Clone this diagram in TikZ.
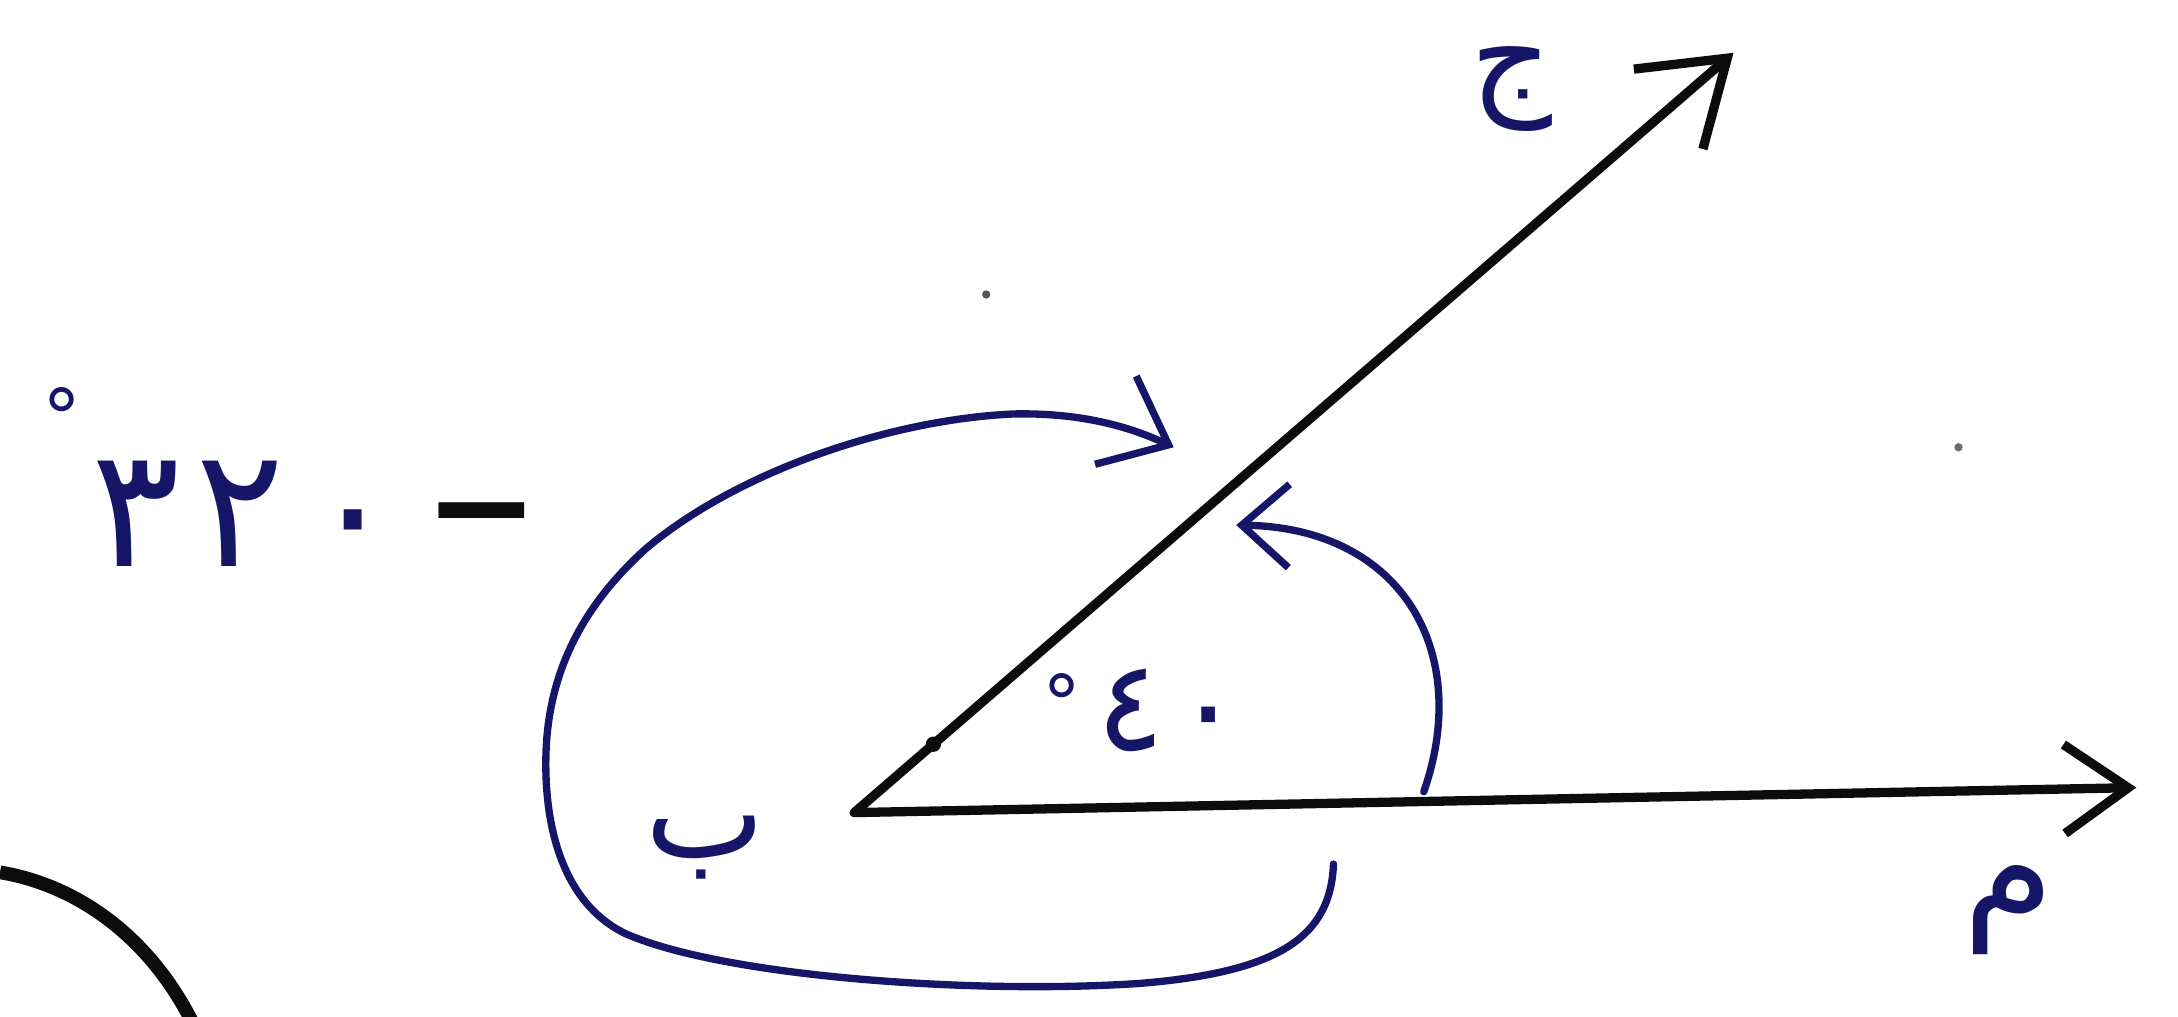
\documentclass[tikz,border=0pt]{standalone}
\usepackage{fontspec}
\newfontfamily\arabicfont[Script=Arabic]{DejaVu Sans}
\usetikzlibrary{arrows.meta}
\definecolor{ink}{RGB}{22,22,105}
\definecolor{pen}{RGB}{12,12,12}
\newcommand\smalldeg[1]{\raisebox{#1}{\fontsize{16}{16}\selectfont °}}
\tikzset{
  ray/.style={draw=pen, line width=1.9pt, line cap=round},
  turn/.style={draw=ink, line width=1.5pt, line cap=round},
  lbl/.style={text=ink, inner sep=0pt, font=\arabicfont\fontsize{#1}{#1}\selectfont},
}
\begin{document}
\begin{tikzpicture}[x=0.01cm, y=-0.01cm]
  \useasboundingbox (0,0) rectangle (1568,732);
  \clip (0,0) rectangle (1568,732);

  % Vertex and the ends of the two rays
  \coordinate (B) at (615,585);
  \coordinate (M) at (1538,567);
  \coordinate (J) at (1248,38);

  % The two rays
  \draw[ray, -{Straight Barb[length=4.6mm, width=6.4mm]}] (B) -- (M);
  \draw[ray, -{Straight Barb[length=5.6mm, width=7.6mm]}] (B) -- (J);
  \path (B) -- (J) coordinate[pos=0.09] (tick);
  \fill[pen] (tick) circle (0.55mm);

  % Long turn, clockwise round the vertex
  \coordinate (s1) at (960,622);
  \coordinate (e1) at (845,322);
  \draw[turn, -{Straight Barb[length=4.2mm, width=7mm]}] (s1)
    .. controls (958,675) and (920,700) .. (820,708)
    .. controls (700,716) and (520,703) .. (450,672)
    .. controls (405,650) and (392,595) .. (393,545)
    .. controls (394,490) and (415,440) .. (465,395)
    .. controls (530,340) and (640,302) .. (730,298)
    .. controls (780,297) and (815,308) .. (e1);

  % Short turn, between the rays
  \coordinate (s2) at (1025,570);
  \coordinate (e2) at (890,378);
  \draw[turn, -{Straight Barb[length=3.4mm, width=6mm]}] (s2)
    .. controls (1060,470) and (1010,380) .. (e2);

  % Labels
  \node[lbl=26] (labB) at (508,610) {ب};
  \node[lbl=30] (labM) at (1446,655) {م};
  \node[lbl=26] (labJ) at (1088,64) {ج};
  \node[lbl=26, anchor=base west] (small) at (750,540) {\smalldeg{0.15em}\kern3pt ٤\kern2pt ٠};
  \node[lbl=34, anchor=base west] (large) at (30,408) {\smalldeg{0.73em}\kern2pt ٣\kern3pt ٢\kern5pt ٠};
  \node[lbl=28, text=pen, font=\arabicfont\bfseries\fontsize{28}{28}\selectfont] (sign) at (347,380) {−};

  % Specks and the edge of a circle
  \fill[pen!70] (710,212) circle (0.3mm);
  \fill[pen!60] (1410,322) circle (0.3mm);
  \draw[pen, line width=2.8pt] (0,628) .. controls (60,638) and (115,680) .. (145,750);
\end{tikzpicture}
\end{document}
